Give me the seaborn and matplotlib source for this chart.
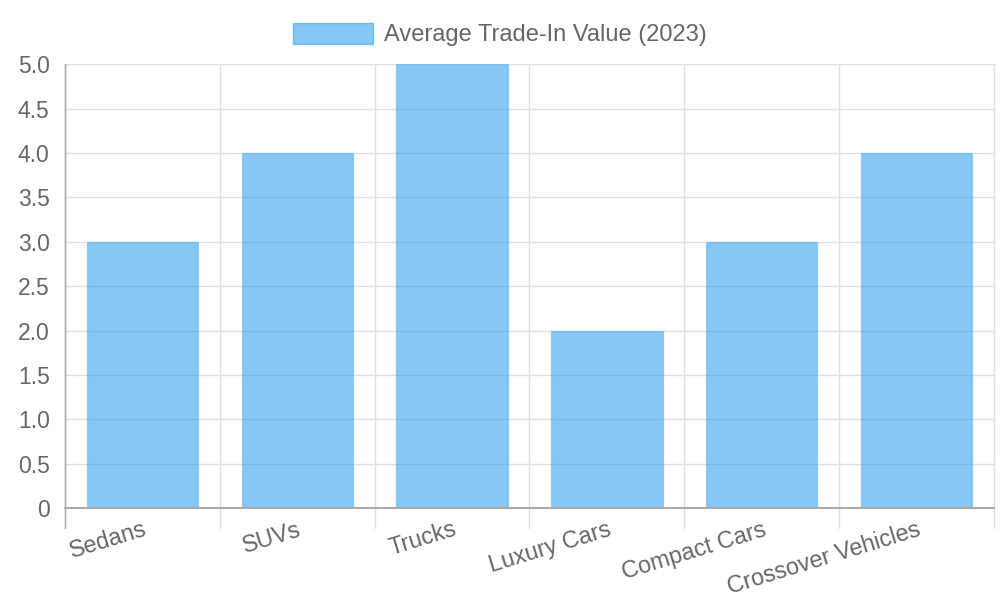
import matplotlib
matplotlib.use('Agg')
import matplotlib.pyplot as plt
import seaborn as sns
import pandas as pd
from matplotlib.patches import Patch

categories = ['Sedans', 'SUVs', 'Trucks', 'Luxury Cars', 'Compact Cars', 'Crossover Vehicles']
values = [3, 4, 5, 2, 3, 4]
series_name = 'Average Trade-In Value (2023)'
y_ticks = [0, 0.5, 1.0, 1.5, 2.0, 2.5, 3.0, 3.5, 4.0, 4.5, 5.0]
y_labels = ['0', '0.5', '1.0', '1.5', '2.0', '2.5', '3.0', '3.5', '4.0', '4.5', '5.0']

BAR = (54/255, 162/255, 235/255, 0.6)
TXT = '#666666'
GRID = '#e1e1e1'

sns.set_style('white')
plt.rcParams['font.family'] = ['Liberation Sans', 'DejaVu Sans']

df = pd.DataFrame({'cat': categories, 'val': values})

fig = plt.figure(figsize=(10, 6), dpi=100)
ax = fig.add_axes([0.065, 0.153, 0.929, 0.74])
sns.barplot(data=df, x='cat', y='val', color=BAR, saturation=1, width=0.72,
            edgecolor=(54/255, 162/255, 235/255, 0.35), linewidth=1, ax=ax, zorder=3)
for p in ax.patches:
    p.set_facecolor(BAR)

ax.set_xlim(-0.5, len(categories) - 0.5)
ax.set_ylim(0, 5)
ax.set_yticks(y_ticks)
ax.set_yticklabels(y_labels, color=TXT, fontsize=16.5)
ax.set_xticks(range(len(categories)))
ax.set_xticklabels(categories, rotation=17, ha='right', rotation_mode='anchor',
                   color=TXT, fontsize=16.8)
ax.tick_params(axis='x', length=0, pad=7)
ax.tick_params(axis='y', length=8, color=GRID, pad=3)
ax.set_xlabel('')
ax.set_ylabel('')

# horizontal grid
ax.yaxis.grid(True, color=GRID, linewidth=1, zorder=0)
# vertical grid at category boundaries, extending below axis
for b in [i - 0.5 for i in range(len(categories) + 1)]:
    ax.plot([b, b], [-0.22, 5], color=GRID, linewidth=1, zorder=1, clip_on=False)
ax.plot([-0.5, -0.5], [-0.22, 5], color='#aaaaaa', linewidth=1, zorder=4, clip_on=False)

for s in ['top', 'right']:
    ax.spines[s].set_visible(False)
ax.spines['left'].set_color('#aaaaaa')
ax.spines['bottom'].set_color('#aaaaaa')
ax.spines['bottom'].set_linewidth(1.5)
ax.spines['bottom'].set_zorder(5)

handle = Patch(facecolor=BAR, edgecolor=BAR)
fig.legend([handle], [series_name], loc='upper center', bbox_to_anchor=(0.5, 0.99),
           frameon=False, fontsize=17, labelcolor=TXT, handlelength=3.4, handleheight=1.0,
           handletextpad=0.45, borderaxespad=0.3)

fig.savefig('out.png', dpi=100, facecolor='white')
